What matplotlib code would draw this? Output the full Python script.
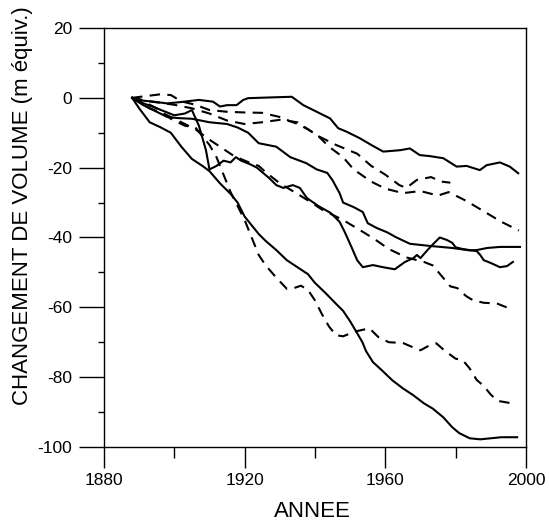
import matplotlib.pyplot as plt
from matplotlib.ticker import MultipleLocator

plt.rcParams['font.family'] = ['Liberation Sans', 'DejaVu Sans']
plt.rcParams['axes.unicode_minus'] = False

# solid curves (year, volume change in m equiv.)
s1_years = [1888, 1891, 1894, 1898, 1902, 1907, 1911, 1913, 1915, 1917.7, 1919.6, 1921, 1927, 1933.4,
            1936.7, 1940.5, 1944.3, 1946.6, 1949, 1952.8, 1956, 1959.4, 1964.2, 1967, 1969.8, 1972.7,
            1976.5, 1980.3, 1983.1, 1986.9, 1988.8, 1992.6, 1995.4, 1997.8]
s1_vals = [0, -0.8, -1.1, -1.6, -1.2, -0.6, -1.1, -2.5, -2.1, -2.1, -0.6, -0.1, 0.1, 0.3,
           -2.1, -4.0, -5.9, -8.7, -9.7, -11.6, -13.5, -15.4, -15.0, -14.5, -16.4, -16.7,
           -17.3, -19.7, -19.5, -20.7, -19.3, -18.5, -19.7, -21.6]

s2_years = [1888, 1891, 1894, 1898, 1901, 1905, 1910, 1915, 1918, 1921, 1924, 1929, 1933, 1937.5,
            1940.5, 1943.5, 1945, 1947, 1948, 1951, 1953.6, 1955, 1957.6, 1960.5, 1963, 1967,
            1972.5, 1979, 1984, 1986, 1989, 1992.6, 1998.3]
s2_vals = [0, -2, -3.5, -5.5, -5.8, -6, -7, -7.5, -8.5, -10, -13, -14, -17, -18.7,
           -20.5, -21.5, -23.6, -27.3, -30, -31.3, -32.7, -35.9, -37.3, -38.5, -39.9, -41.8,
           -42.4, -43, -43.7, -43.6, -43, -42.7, -42.7]

s3_years = [1888, 1891, 1895, 1900, 1903, 1905, 1907, 1909, 1910, 1912, 1914, 1916, 1917.5, 1919,
            1921.5, 1923.5, 1925, 1927, 1929, 1931, 1933.7, 1935.7, 1937.7, 1941, 1944.5, 1947,
            1948.5, 1950.5, 1952, 1953.6, 1956.5, 1959.3, 1962.7, 1965.6, 1968, 1969, 1970, 1972,
            1973.5, 1975.5, 1977.5, 1979, 1980, 1982, 1984, 1986, 1987, 1988, 1990, 1992.6, 1994.6,
            1996.3]
s3_vals = [0, -1.5, -3, -5, -4.5, -3.5, -8, -15, -20.5, -19.5, -18, -18.5, -17, -18,
           -19, -20, -21.3, -23, -25, -25.8, -25, -25.8, -28.7, -31, -33, -35.5,
           -38.5, -43, -46.5, -48.5, -47.9, -48.5, -49.1, -47, -45.9, -45, -45.9, -43.6,
           -42, -40, -40.7, -41.5, -42.8, -43.3, -43.6, -43.9, -45, -46.5, -47.3, -48.5, -48.2,
           -47]

s4_years = [1888, 1890, 1893, 1896, 1899, 1902, 1905, 1908, 1910, 1913, 1916, 1918, 1920, 1922,
            1924, 1926, 1929, 1932, 1935, 1938, 1940, 1943, 1946, 1948, 1950, 1952, 1953.5,
            1954.5, 1956.5, 1959, 1962, 1965, 1968, 1971, 1973.5, 1976.5, 1979, 1981, 1984, 1987,
            1990, 1993, 1997.5]
s4_vals = [0, -3, -7, -8.4, -10, -14, -17.5, -19.5, -21, -24.5, -27.5, -30, -34, -36.5,
           -39, -41, -43.6, -46.5, -48.5, -50.5, -53, -55.9, -59, -61, -64, -67.4, -70,
           -72.5, -75.7, -78, -80.9, -83.2, -85.2, -87.5, -89, -91.5, -94.3, -96, -97.5, -97.8,
           -97.5, -97.2, -97.2]

# dashed curves
d1_years = [1888, 1892, 1896, 1899, 1902, 1906, 1910, 1915, 1920, 1925, 1930, 1935, 1938, 1941,
            1944, 1948, 1951, 1956, 1960, 1965, 1970, 1975, 1978, 1983, 1988, 1993, 1998]
d1_vals = [0, 0.5, 1, 0.8, -1, -2, -3.5, -4, -4.2, -4.3, -5.5, -7.5, -9, -11,
           -14, -17, -20.5, -24, -26, -27.3, -26.7, -28, -27, -29.5, -32.5, -35.5, -38]

d2_years = [1888, 1893, 1900, 1905, 1910, 1915, 1920, 1925, 1930, 1935, 1941, 1946, 1952, 1956,
            1960, 1964, 1966, 1969, 1973, 1976, 1978.5]
d2_vals = [0, -1, -2, -3, -4.5, -6.5, -7.5, -7, -6.3, -7, -11, -13.5, -16, -19.5,
           -22, -25, -25.8, -23.5, -22.7, -24, -24.3]

d3_years = [1888, 1893, 1898, 1902, 1906, 1910, 1913, 1917, 1921, 1924, 1926, 1930, 1935, 1939,
            1942, 1945, 1948, 1953, 1957, 1961, 1966, 1971, 1973.5, 1976, 1978.5, 1980.5, 1983,
            1985, 1988, 1990, 1992, 1995]
d3_vals = [0, -3, -5, -7, -9, -12, -14, -16.7, -18.4, -19.5, -21.3, -24.5, -27.5, -30,
           -32, -33.5, -35, -38, -40.5, -43.3, -45.7, -47, -48, -51, -54, -54.5, -56.8,
           -58, -58.7, -58.8, -59, -60.2]

d4_years = [1888, 1891, 1895, 1899, 1903, 1906, 1908, 1910, 1912, 1914, 1916, 1918, 1920, 1922,
            1924, 1926, 1929, 1932, 1934, 1936, 1938, 1940, 1942, 1944, 1946, 1948, 1950, 1952,
            1955.5, 1958, 1961, 1965, 1968, 1970, 1972, 1974.5, 1977, 1980, 1982, 1984, 1986,
            1988, 1990, 1992, 1995.5]
d4_vals = [0, -1, -3, -6, -8, -8.5, -11, -13.5, -17, -22, -27, -31, -35, -40,
           -45, -48, -51.5, -54.7, -54.5, -53.8, -55, -58, -62, -65.5, -68, -68.3, -67.5, -66.8,
           -66, -68.5, -70, -70.2, -71.5, -72.3, -71.2, -70.3, -72.5, -74.7, -75.1, -77.5, -80.8,
           -82.5, -85, -86.8, -87.4]

solid = [(s1_years, s1_vals), (s2_years, s2_vals), (s3_years, s3_vals), (s4_years, s4_vals)]
dashed = [(d1_years, d1_vals), (d2_years, d2_vals), (d3_years, d3_vals), (d4_years, d4_vals)]

fig = plt.figure(figsize=(5.49, 5.23), dpi=100)
ax = fig.add_axes([0.1894, 0.1453, 0.7686, 0.8012])

for x, y in solid:
    ax.plot(x, y, color='black', lw=1.5, solid_joinstyle='round')
for x, y in dashed:
    ax.plot(x, y, color='black', lw=1.5, linestyle=(0, (5, 3.5)))

ax.set_xlim(1880, 2000)
ax.set_ylim(-100, 20)
ax.xaxis.set_major_locator(MultipleLocator(40))
ax.xaxis.set_minor_locator(MultipleLocator(20))
ax.yaxis.set_major_locator(MultipleLocator(20))
ax.yaxis.set_minor_locator(MultipleLocator(10))

ax.tick_params(axis='x', which='major', direction='out', length=15, width=1, labelsize=12.5, pad=4)
ax.tick_params(axis='x', which='minor', direction='out', length=8, width=1)
ax.tick_params(axis='y', which='major', direction='out', length=18, width=1, labelsize=12.5, pad=5)
ax.tick_params(axis='y', which='minor', direction='out', length=4, width=1)
for sp in ax.spines.values():
    sp.set_linewidth(1)

ax.set_xlabel('ANNEE', fontsize=16)
ax.xaxis.set_label_coords(0.495, -0.13)
ax.set_ylabel('CHANGEMENT DE VOLUME (m équiv.)', fontsize=16)
ax.yaxis.set_label_coords(-0.168, 0.575)

fig.savefig('out.png', dpi=100)
